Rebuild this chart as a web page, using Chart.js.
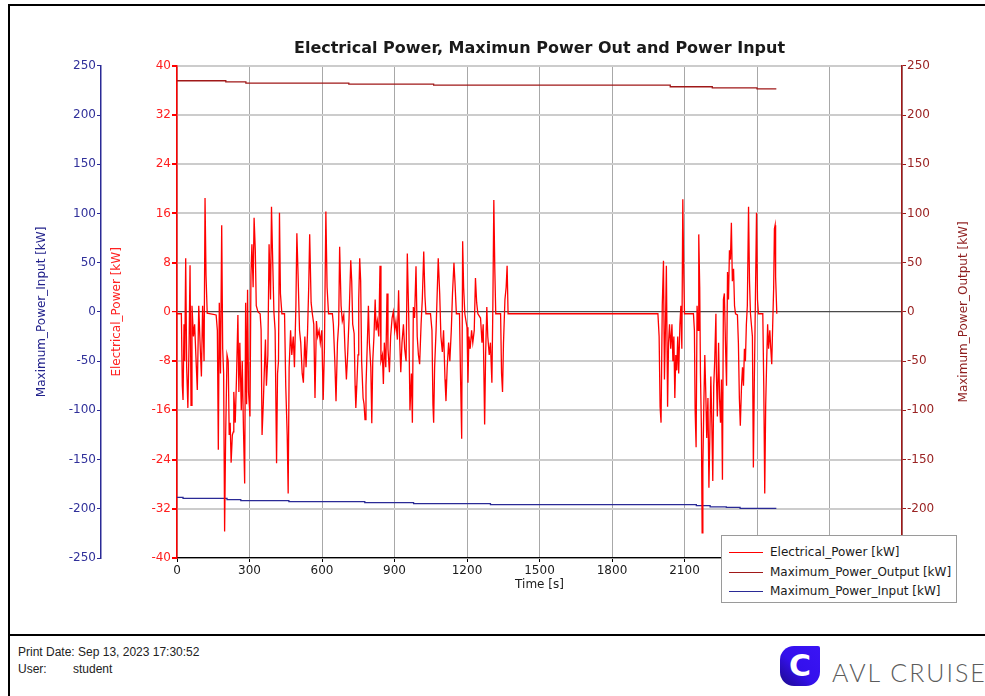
<!DOCTYPE html>
<html>
<head>
<meta charset="utf-8">
<title>Electrical Power</title>
<script src="https://cdn.jsdelivr.net/npm/chart.js@4.4.0/dist/chart.umd.min.js"></script>
<style>
  html, body { margin: 0; padding: 0; background: #fff; width: 985px; height: 696px; overflow: hidden; }
  .frame { position: absolute; left: 8px; top: 4px; width: 1000px; height: 720px;
           border-left: 2px solid #000; border-top: 2px solid #000; }
  #chart { position: absolute; left: 0; top: 0; }
  .legend { position: absolute; left: 721px; top: 535px; width: 234px; height: 66px;
            border: 1px solid #9a9a9a; background: #fff; font: 12px "DejaVu Sans", sans-serif; color: #1a1a1a; }
  .legend .row { position: absolute; left: 0; height: 20px; line-height: 20px; white-space: nowrap; }
  .legend .swatch { position: absolute; left: 7px; top: 10px; width: 34px; height: 0; }
  .legend .txt { position: absolute; left: 48px; top: 0; }
  .footLine { position: absolute; left: 8px; top: 634px; width: 990px; border-top: 2px solid #000; }
  .foot { position: absolute; font: 12px "Liberation Sans", Arial, sans-serif; color: #222; }
  .logo { position: absolute; left: 780px; top: 646px; width: 40px; height: 40px;
          border-radius: 14px 2px 14px 14px;
          background: linear-gradient(45deg, #1c0a8a 0%, #3410ec 45%, #3a14f5 100%);
          color: #fff; font: bold 30px "DejaVu Sans", sans-serif; line-height: 40px; text-align: center; }
  .brand { position: absolute; left: 832px; top: 657px; font: 300 25px Lato, "Open Sans", sans-serif;
           letter-spacing: 2px; color: #5c5c5c; white-space: nowrap; }
</style>
</head>
<body>
<div class="frame"></div>
<canvas id="chart" width="985" height="600"></canvas>
<div class="legend" id="legend"></div>
<div class="footLine"></div>
<div class="foot" style="left:18px; top:645px;">Print Date: Sep 13, 2023 17:30:52</div>
<div class="foot" style="left:18px; top:662px;">User:</div>
<div class="foot" style="left:73px; top:662px;">student</div>
<div class="logo">C</div>
<div class="brand">AVL CRUISE</div>

<script>
// ── Data ───────────────────────────────────────
const chartTitle = 'Electrical Power, Maximun Power Out and Power Input';
const labelElec = 'Electrical_Power [kW]';
const labelOut = 'Maximum_Power_Output [kW]';
const labelIn = 'Maximum_Power_Input [kW]';
const timeTitle = 'Time [s]';

const timeRange = [0, 3000, 300];      // min, max, step
const elecRange = [-40, 40, 8];
const powerRange = [-250, 250, 50];

// [time s, kW]
const elecPower = [
  [0,-0.3],[18,-0.3],[22,-12],[25,-14.3],[29,-2],[32,-8],[36,8.7],[40,-9],[45,-15.6],[50,-5],
  [54,7.6],[58,-15.2],[62,1],[68,-4],[73,-2],[78,-7],[84,-12.7],[90,1],[95,-4.6],[101,-10.5],
  [106,1],[112,-8],[116,18.5],[120,6],[125,-0.2],[162,-0.5],[167,-3],[171,-22.4],[175,1.5],[180,-10],
  [185,14.1],[189,-6],[193,-10],[197,-35.7],[201,-21],[207,-7],[212,-8],[216,-20],[220,-18],[224,-24.5],
  [229,-20],[233,-19.5],[235,-13],[241,-18],[246,-11],[252,-0.5],[256,-13],[260,-5],[266,-16],[270,-8],
  [275,-19],[280,-27.9],[284,1.5],[288,-15],[292,3.6],[296,-13],[302,-17],[306,6],[310,11],[315,4],
  [319,15.3],[324,10],[328,1],[335,0],[344,-0.3],[348,-2.9],[352,-20],[357,-15],[361,-10],[366,-4.5],
  [370,-12],[376,-7],[381,11],[387,2],[391,17.1],[395,10],[401,0],[406,-3],[412,-24.6],[416,-10],
  [420,-8],[424,16.1],[428,3],[434,-0.3],[445,-0.3],[450,-12],[456,-20],[460,-29.5],[464,-9],[470,-3],
  [475,-7],[481,-4],[486,-9],[492,1],[496,12.8],[501,6],[507,-3],[512,-5],[518,-10],[523,-11.5],
  [529,-4],[534,-9],[540,-3.5],[545,4],[549,12.6],[555,1.5],[560,-0.3],[566,-2],[571,-14],[577,-1.5],
  [582,-4],[588,-3],[593,-5],[599,-3],[605,-14.3],[610,-6],[616,16.3],[621,4],[627,-0.3],[643,-0.3],
  [647,-2],[653,-8],[658,-14.5],[664,-5],[669,-2],[673,10.6],[679,1],[684,-1.5],[690,-0.5],[695,-6],
  [701,-11],[706,-7],[712,-1],
  [719,8.4],[723,5],[727,-2],[733,-3.5],[737,-12],[740,-15.6],[744,-12],[749,-7],[752,2],[756,8.7],
  [760,5],[764,-8],[770,-14],[774,-15],[778,-17.5],[782,-12],[788,-4.5],[792,1],[796,-5],[802,-9],
  [806,-18.1],[810,-8],[815,-4],[820,2],[824,-3],[829,-1.5],[835,-4],[840,7.5],[844,-8],[850,-7],
  [854,-11.7],[858,-5],[864,-9],[869,3],[873,-6],[879,-9.8],[884,-4],[890,-1],[895,0],[901,-3],
  [906,-1.5],[912,-4.5],[917,3.5],[921,-4],[926,-9.8],[931,-5],[937,-2],[942,-6],[948,-8],[953,9.5],
  [959,-1],[964,-16],[970,-10],[974,-18],[978,0.8],[983,-1],[989,7.4],[994,-4],[999,-7],[1004,-8.5],
  [1010,-2],[1015,2],[1021,9.8],[1026,2.5],[1030,-0.3],[1049,-0.3],[1055,-3],[1059,-15],[1062,-18],[1066,-9],
  [1072,-3],[1077,3.5],[1081,8.7],[1087,3],[1092,-4],[1098,-6.5],[1103,-3],[1109,-11],[1113,-14.5],[1118,-9],
  [1124,-5],[1129,-8],[1135,-3],[1140,3],[1146,8],[1150,5],[1156,-0.3],[1169,-0.3],[1173,-10],[1178,-20.6],
  [1182,11.5],[1186,4],[1191,-0.3],[1200,-2.5],[1204,-11.5],[1208,-4],[1213,-6],[1219,-3],[1224,-5],[1230,-3],
  [1235,5.5],[1240,1.5],[1245,-0.3],[1256,-1],[1262,-5],[1267,-2],[1273,-18.3],[1277,-7],[1282,0.8],[1286,-4],
  [1292,-7],[1297,-5],[1303,-11.5],[1307,1],[1311,18.2],[1315,7],[1319,-0.3],[1339,-0.3],[1343,-10],[1347,-13],
  [1351,-5],[1357,2],[1362,4],[1366,7.5],[1370,-0.3],
  [1990,-0.3],[1995,-4],[1999,-15.4],[2003,-18],[2008,1],[2013,8.3],[2017,-11],[2021,-3],[2025,7.5],[2030,-15.4],
  [2034,-5],[2038,-2],[2043,-6],[2048,-2],[2052,-8],[2056,-4],[2060,-14],[2064,-7],[2068,-9.5],[2072,-4],
  [2076,-10],[2081,-2],[2085,1],[2089,-6],[2093,18.3],[2097,6],[2100,-0.3],[2137,-0.3],[2141,-3],[2144,-16],
  [2148,-22],[2152,1],[2157,-3],[2159,12.6],[2163,4],[2166,-10],[2170,-19],[2173,-35.9],[2176,-25],[2180,-15],
  [2184,-7],[2188,-13],[2192,-20.5],[2197,-14],[2201,-28.6],[2205,-20],[2209,-10.5],[2213,-18],[2217,-27.5],[2221,-12],
  [2225,-8],[2230,-0.3],[2232,-10],[2236,-17],[2241,-5],[2245,-14],[2249,-18],[2253,-11],[2257,-27.3],[2261,2],
  [2265,3],[2270,-6],[2274,-12],[2278,6.5],[2282,2],[2286,10],[2290,8.5],[2294,14.5],[2298,5],[2303,7],
  [2307,1],[2311,-0.3],[2319,-0.5],[2323,-5],[2327,-14],[2331,-18.5],[2336,-12],[2340,-9],[2344,-12],[2348,-6],
  [2352,-8],[2356,-2],[2360,1],[2365,17.1],[2369,5],[2373,-0.3],[2381,-4],[2385,-25.3],[2389,-11],[2393,0.8],
  [2398,16.1],[2402,2],[2406,-0.3],[2424,-0.3],[2428,-12],[2432,-29.5],[2436,-15],[2440,-8],[2444,-2],[2448,-6],
  [2453,-3],[2457,-6],[2461,-8.5],[2465,-2],[2469,4],[2472,13.5],[2475,14.1],[2477,5.7],[2482,-0.3]
];

// each value holds until the next time
const maxPowerOut = [
  [0,234.8],[202,233.7],[285,232.4],[711,231.4],[1062,230.4],[2041,228.7],[2215,227.6],[2400,226.6],[2480,226.6]
];
const maxPowerIn = [
  [0,-188.4],[25,-189.4],[207,-190.7],[264,-191.8],[463,-192.8],[777,-193.8],[979,-194.8],[1297,-195.8],
  [2149,-196.8],[2206,-198],[2273,-198.5],[2330,-199.5],[2480,-199.5]
];

// ── Colours ────────────────────────────────────
const RED = '#ff0000';
const DARKRED = '#a01818';
const NAVY = '#2a2a96';
const FONT = '"DejaVu Sans", sans-serif';

const toXY = arr => arr.map(p => ({ x: p[0], y: p[1] }));
const plain = v => String(v);   // no thousands separator on the time axis

// right axis title reads bottom-to-top in the reference
const rightTitle = {
  id: 'rightTitle',
  afterDraw(chart) {
    const s = chart.scales.yOut;
    const ctx = chart.ctx;
    ctx.save();
    ctx.translate(s.right - 21, (chart.chartArea.top + chart.chartArea.bottom) / 2);
    ctx.rotate(-Math.PI / 2);
    ctx.font = '12px ' + FONT;
    ctx.fillStyle = '#8e1f1f';
    ctx.textAlign = 'center';
    ctx.textBaseline = 'middle';
    ctx.fillText(labelOut, 0, 0);
    ctx.restore();
  }
};

const chart = new Chart(document.getElementById('chart'), {
  type: 'line',
  data: {
    datasets: [
      { label: labelElec, data: toXY(elecPower), yAxisID: 'yEl', borderColor: RED,
        borderWidth: 1.3, pointRadius: 0, order: 0 },
      { label: labelOut, data: toXY(maxPowerOut), yAxisID: 'yOut', borderColor: DARKRED,
        borderWidth: 1.3, pointRadius: 0, stepped: true, order: 1 },
      { label: labelIn, data: toXY(maxPowerIn), yAxisID: 'yIn', borderColor: NAVY,
        borderWidth: 1.3, pointRadius: 0, stepped: true, order: 2 }
    ]
  },
  options: {
    responsive: false,
    animation: false,
    events: [],
    layout: { padding: { left: 26, right: 0, top: 10, bottom: 0 } },
    plugins: {
      legend: { display: false },
      tooltip: { enabled: false },
      title: {
        display: true, text: chartTitle, fullSize: false, color: '#1a1a1a',
        font: { family: FONT, size: 16, weight: 'bold', lineHeight: 1.2 },
        padding: { top: 29, bottom: 7.6 }
      }
    },
    scales: {
      x: {
        type: 'linear', min: timeRange[0], max: timeRange[1],
        ticks: { stepSize: timeRange[2], color: '#1a1a1a', padding: 2, callback: plain,
                 font: { family: FONT, size: 12 } },
        grid: { color: '#a8a8a8', lineWidth: 1, tickLength: 4, tickColor: '#000' },
        border: { color: '#000', width: 1.2 },
        title: { display: true, text: timeTitle, color: '#1a1a1a', font: { family: FONT, size: 12 },
                 padding: { top: 0, bottom: 8 } },
        afterFit: s => { s.height = 42; }
      },
      yEl: {
        position: 'left', weight: 0, min: elecRange[0], max: elecRange[1],
        ticks: { stepSize: elecRange[2], color: '#ff2020', padding: 1, font: { family: FONT, size: 12 } },
        grid: {
          color: c => (c.tick && c.tick.value === 0 ? '#4a4a4a' : '#cccccc'),
          lineWidth: c => (c.tick && c.tick.value === 0 ? 1.2 : 2),
          tickLength: 5, tickColor: RED
        },
        border: { color: RED, width: 1.5 },
        title: { display: true, text: labelElec, color: '#ff2020', font: { family: FONT, size: 12 },
                 padding: { top: 9, bottom: 0 } },
        afterFit: s => { s.width = 76; }
      },
      yIn: {
        position: 'left', weight: 1, min: powerRange[0], max: powerRange[1],
        ticks: { stepSize: powerRange[2], color: '#30309a', padding: 1, font: { family: FONT, size: 12 } },
        grid: { drawOnChartArea: false, tickLength: 4, color: NAVY, tickColor: NAVY },
        border: { color: NAVY, width: 1.5 },
        title: { display: true, text: labelIn, color: '#23238c', font: { family: FONT, size: 12 },
                 padding: { top: 9, bottom: 0 } },
        afterFit: s => { s.width = 75; }
      },
      yOut: {
        position: 'right', min: powerRange[0], max: powerRange[1],
        ticks: { stepSize: powerRange[2], color: '#9a2323', padding: 1, font: { family: FONT, size: 12 } },
        grid: { drawOnChartArea: false, tickLength: 4, color: DARKRED, tickColor: DARKRED },
        border: { color: DARKRED, width: 1.5 },
        afterFit: s => { s.width = 83; }
      }
    }
  },
  plugins: [rightTitle]
});

// ── HTML legend (overlaps the x axis like the reference) ──
const legendEl = document.getElementById('legend');
chart.data.datasets.forEach((ds, i) => {
  const row = document.createElement('div');
  row.className = 'row';
  row.style.top = (6 + i * 19.5) + 'px';
  row.innerHTML = '<span class="swatch" style="border-top:1.5px solid ' + ds.borderColor + '"></span>' +
                  '<span class="txt">' + ds.label + '</span>';
  legendEl.appendChild(row);
});
</script>
</body>
</html>
